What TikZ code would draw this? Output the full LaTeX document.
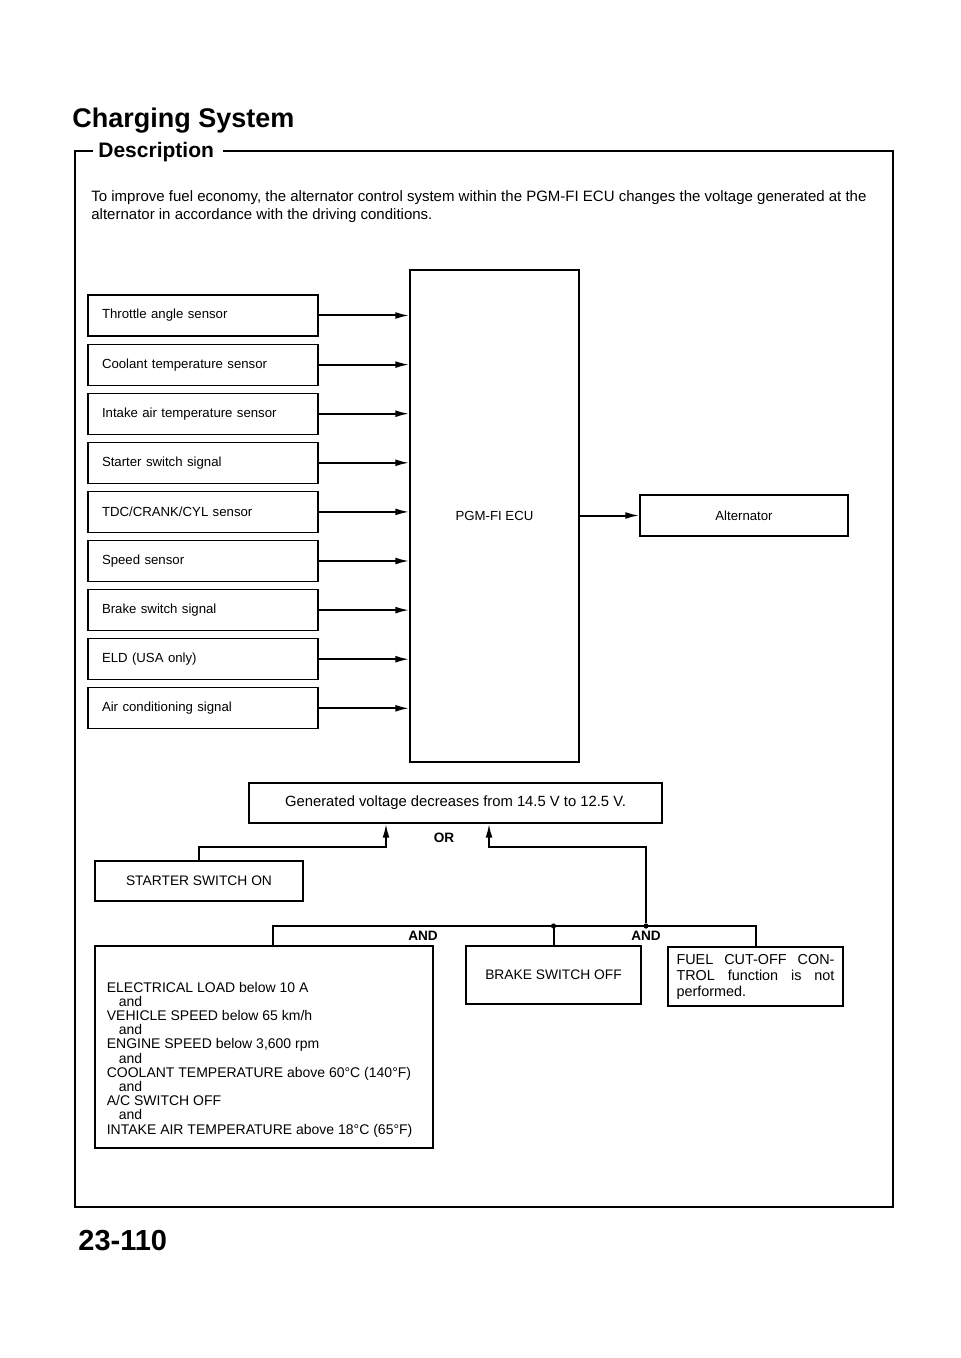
\documentclass[tikz,border=0pt]{standalone}
\usepackage{fontspec}
\setmainfont{Liberation Sans}
\usetikzlibrary{arrows.meta}
\usetikzlibrary{positioning}

\begin{document}
\begin{tikzpicture}[x=0.5pt, y=-0.5pt,
    box/.style={rectangle, draw, line width=0.55pt, inner sep=0pt, anchor=center},
    sensor/.style={box, minimum width=115pt, minimum height=20.5pt, text width=101pt, align=left, font=\fontsize{6.6}{8}\selectfont},
    cond/.style={box, font=\fontsize{6.9}{8}\selectfont},
    link/.style={line width=1pt},
    feed/.style={link, -{Latex[length=7pt, width=3.4pt]}},
    gate/.style={inner sep=0pt, font=\bfseries\fontsize{6.8}{8}\selectfont},
    junction/.style={circle, fill, inner sep=0pt, minimum size=2.6pt}]

      \useasboundingbox (0,0) rectangle (960,1358);

      % heading and frame
      \node[anchor=base west, inner sep=0pt, font=\bfseries\fontsize{13.5}{16}\selectfont] (title) at (72,128) {Charging System};
      \node[anchor=base west, inner sep=0pt, font=\bfseries\fontsize{10.5}{12}\selectfont] (descr) at (98,158) {Description};
      \draw[line width=1pt] (93,151) -- (75,151) -- (75,1207) -- (893,1207) -- (893,151) -- (223,151);

      \node[anchor=north west, inner sep=0pt, align=left, font=\fontsize{7.5}{9}\selectfont] (intro) at (91,190) {
        To improve fuel economy, the alternator control system within the PGM-FI ECU changes the voltage generated at the\\
        alternator in accordance with the driving conditions.
      };

      % inputs to the ECU
      \node[box, minimum width=84.5pt, minimum height=246pt, font=\fontsize{6.6}{8}\selectfont] (ecu) at (494.5,516) {PGM-FI ECU};

      \foreach \txt [count=\i] in {Throttle angle sensor, Coolant temperature sensor, Intake air temperature sensor,
          Starter switch signal, TDC/CRANK/CYL sensor, Speed sensor, Brake switch signal, ELD (USA only), Air conditioning signal} {
        \node[sensor] (s\i) at (203,{315.5+49.1*(\i-1)}) {\txt};
        \draw[feed] (s\i.east) -- (s\i.east -| ecu.west);
      }

      \node[box, minimum width=104pt, minimum height=20.5pt, font=\fontsize{6.6}{8}\selectfont] (alt) at (744,515.5) {Alternator};
      \draw[feed] (ecu.east |- alt) -- (alt.west);

      % conditions
      \node[box, minimum width=206.5pt, minimum height=20pt, font=\fontsize{7.4}{8}\selectfont] (gen) at (455.5,803) {Generated voltage decreases from 14.5 V to 12.5 V.};
      \node[cond, minimum width=104pt, minimum height=20pt] (starter) at (199,881) {STARTER SWITCH ON};
      \node[box, minimum width=169pt, minimum height=101pt] (elec) at (264,1047) {};
      \node[cond, minimum width=87.5pt, minimum height=29pt] (brake) at (553.5,975) {BRAKE SWITCH OFF};
      \node[box, minimum width=87.5pt, minimum height=29.5pt, text width=79pt, align=justify, font=\fontsize{7.2}{8}\selectfont] (fuel) at (755.5,976.5) {FUEL CUT-OFF CON-\linebreak TROL function is not\linebreak performed.};

      \node[below right=18pt and 6pt of elec.north west, inner sep=0pt, align=left, font=\fontsize{7}{7.1}\selectfont] (elecText) {
        ELECTRICAL LOAD below 10 A\\
        \hspace*{6pt}and\\
        VEHICLE SPEED below 65 km/h\\
        \hspace*{6pt}and\\
        ENGINE SPEED below 3,600 rpm\\
        \hspace*{6pt}and\\
        COOLANT TEMPERATURE above 60°C (140°F)\\
        \hspace*{6pt}and\\
        A/C SWITCH OFF\\
        \hspace*{6pt}and\\
        INTAKE AIR TEMPERATURE above 18°C (65°F)
      };

      % logic
      \coordinate (orL) at (386,847);
      \coordinate (orR) at (489,847);
      \coordinate (busL) at (273,926);
      \node[junction] (j2) at (646,926) {};

      \draw[feed] (starter.north) |- (orL) -- (orL |- gen.south);
      \draw[feed] (j2) |- (orR) -- (orR |- gen.south);
      \draw[link] (elec.north -| busL) -- (busL) -| (fuel.north);
      \draw[link] (brake.north) -- (brake.north |- busL) node[junction] (j1) {};

      \node[gate] (orLabel) at (444,838) {OR};
      \node[gate] (and1) at (423,936) {AND};
      \node[gate] (and2) at (646,936) {AND};

      \node[anchor=base west, inner sep=0pt, font=\bfseries\fontsize{14.5}{16}\selectfont] (page) at (78,1250) {23-110};
    \end{tikzpicture}
\end{document}
